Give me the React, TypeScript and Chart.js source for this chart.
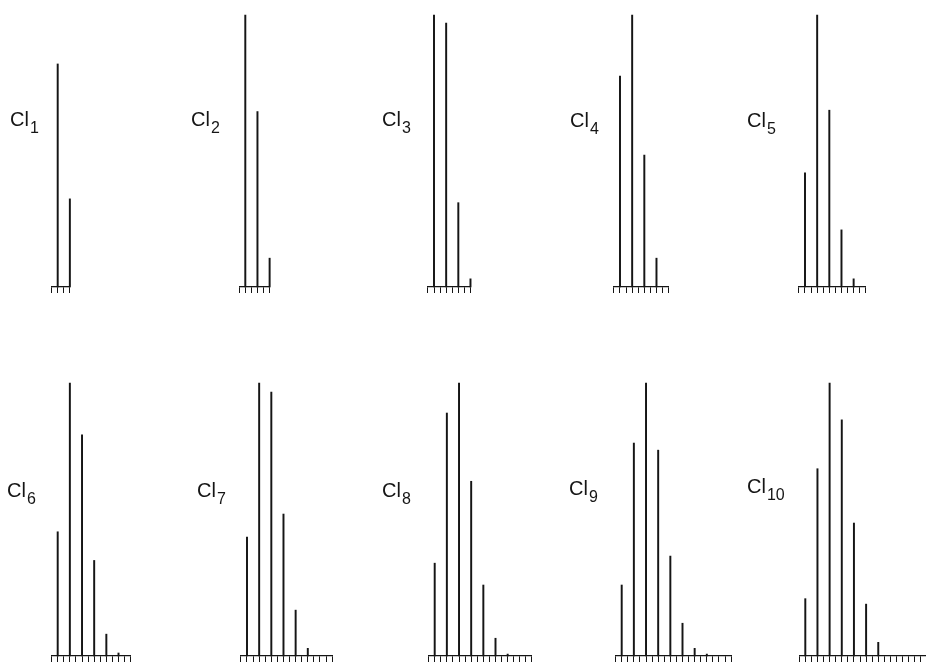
import React, { useEffect, useRef } from "react";
import { Chart, registerables } from "chart.js";

Chart.register(...registerables);

// Relative isotope peak intensities (M, M+2, M+4, ...), % of tallest
const CL1 = [82, 32.4];
const CL2 = [100, 64.5, 10.6];
const CL3 = [100, 97, 31, 3];
const CL4 = [77.5, 100, 48.5, 10.6];
const CL5 = [42, 100, 65, 21, 3];
const CL6 = [45.5, 100, 81, 35, 8, 1.1];
const CL7 = [43.6, 100, 96.7, 52, 16.8, 2.8];
const CL8 = [34, 89, 100, 64, 26, 6.5, 0.7];
const CL9 = [26, 78, 100, 75.4, 36.6, 12, 2.8, 0.7];
const CL10 = [21, 68.6, 100, 86.5, 48.7, 19, 5];

const CHLORINE_COUNTS = [1, 2, 3, 4, 5, 6, 7, 8, 9, 10];
const PANEL_VALUES = [CL1, CL2, CL3, CL4, CL5, CL6, CL7, CL8, CL9, CL10];

// layout (pixels)
const UNIT = 6.08;
const TICK_LEN = 6;
const ROWS = [
  { areaTop: 15, areaBottom: 287 },
  { areaTop: 383, areaBottom: 656 },
];
const LAYOUT = [
  { row: 0, x0: 57.7, labelX: 10, baseline: 126 },
  { row: 0, x0: 245.3, labelX: 191, baseline: 126 },
  { row: 0, x0: 434, labelX: 382, baseline: 126 },
  { row: 0, x0: 620, labelX: 570, baseline: 127 },
  { row: 0, x0: 805, labelX: 747, baseline: 127 },
  { row: 1, x0: 57.7, labelX: 7, baseline: 497 },
  { row: 1, x0: 247, labelX: 197, baseline: 497 },
  { row: 1, x0: 434.7, labelX: 382, baseline: 497 },
  { row: 1, x0: 621.7, labelX: 569, baseline: 495 },
  { row: 1, x0: 805.3, labelX: 747, baseline: 493 },
];

const INK = "#151515";

const labelPlugin = {
  id: "panelLabel",
  afterDraw(chart: any, _args: any, opts: any) {
    const ctx = chart.ctx;
    ctx.save();
    ctx.fillStyle = INK;
    ctx.textAlign = "left";
    ctx.textBaseline = "alphabetic";
    ctx.font = '20px "Liberation Sans", Arial, sans-serif';
    ctx.fillText("Cl", opts.x, opts.y);
    const w = ctx.measureText("Cl").width;
    ctx.font = '16px "Liberation Sans", Arial, sans-serif';
    ctx.fillText(opts.sub, opts.x + w + 1, opts.y + 7);
    ctx.restore();
  },
};

function Panel({ index }: { index: number }) {
  const ref = useRef<HTMLCanvasElement>(null);
  const n = CHLORINE_COUNTS[index];
  const vals = PANEL_VALUES[index];
  const lay = LAYOUT[index];
  const row = ROWS[lay.row];

  const axisLeft = lay.x0 - UNIT;
  const axisRight = lay.x0 + 2 * n * UNIT;
  const left = Math.floor(lay.labelX - 4);
  const right = Math.ceil(axisRight + 6);
  const top = Math.floor(row.areaTop - 6);
  const bottom = Math.ceil(row.areaBottom + TICK_LEN + 6);
  const width = right - left;
  const height = bottom - top;

  useEffect(() => {
    if (!ref.current) return;
    const labels: string[] = [];
    const data: (number | null)[] = [];
    for (let k = -1; k <= 2 * n; k++) {
      labels.push(k < 0 ? "" : k === 0 ? "M" : "M+" + k);
      data.push(k >= 0 && k % 2 === 0 && k / 2 < vals.length ? vals[k / 2] : null);
    }
    const chart = new Chart(ref.current, {
      type: "bar",
      data: {
        labels,
        datasets: [
          {
            data,
            backgroundColor: INK,
            borderWidth: 0,
            barThickness: 1.3,
            clip: false,
          } as any,
        ],
      },
      options: {
        animation: false,
        responsive: false,
        events: [],
        layout: {
          padding: {
            left: axisLeft - left,
            right: right - axisRight,
            top: row.areaTop - top,
            bottom: bottom - row.areaBottom - TICK_LEN,
          },
        },
        plugins: {
          legend: { display: false },
          tooltip: { enabled: false },
          title: { display: false },
          panelLabel: { x: lay.labelX - left, y: lay.baseline - top, sub: String(n) },
        } as any,
        scales: {
          x: {
            type: "category",
            offset: false,
            grid: {
              display: true,
              offset: false,
              drawOnChartArea: false,
              drawTicks: true,
              tickLength: TICK_LEN,
              color: INK,
              lineWidth: 1,
            },
            border: { display: true, color: INK, width: 1.3 },
            ticks: { display: false, autoSkip: false },
          },
          y: {
            display: false,
            min: 0,
            max: 100,
          },
        },
      },
      plugins: [labelPlugin],
    });
    return () => chart.destroy();
  }, []);

  return (
    <canvas
      ref={ref}
      width={width}
      height={height}
      style={{ position: "absolute", left, top, width, height }}
    />
  );
}

export default function App() {
  return (
    <div
      style={{
        position: "absolute",
        left: 0,
        top: 0,
        width: 926,
        height: 664,
        overflow: "hidden",
        background: "#ffffff",
      }}
    >
      {CHLORINE_COUNTS.map((_, i) => (
        <Panel key={i} index={i} />
      ))}
    </div>
  );
}
